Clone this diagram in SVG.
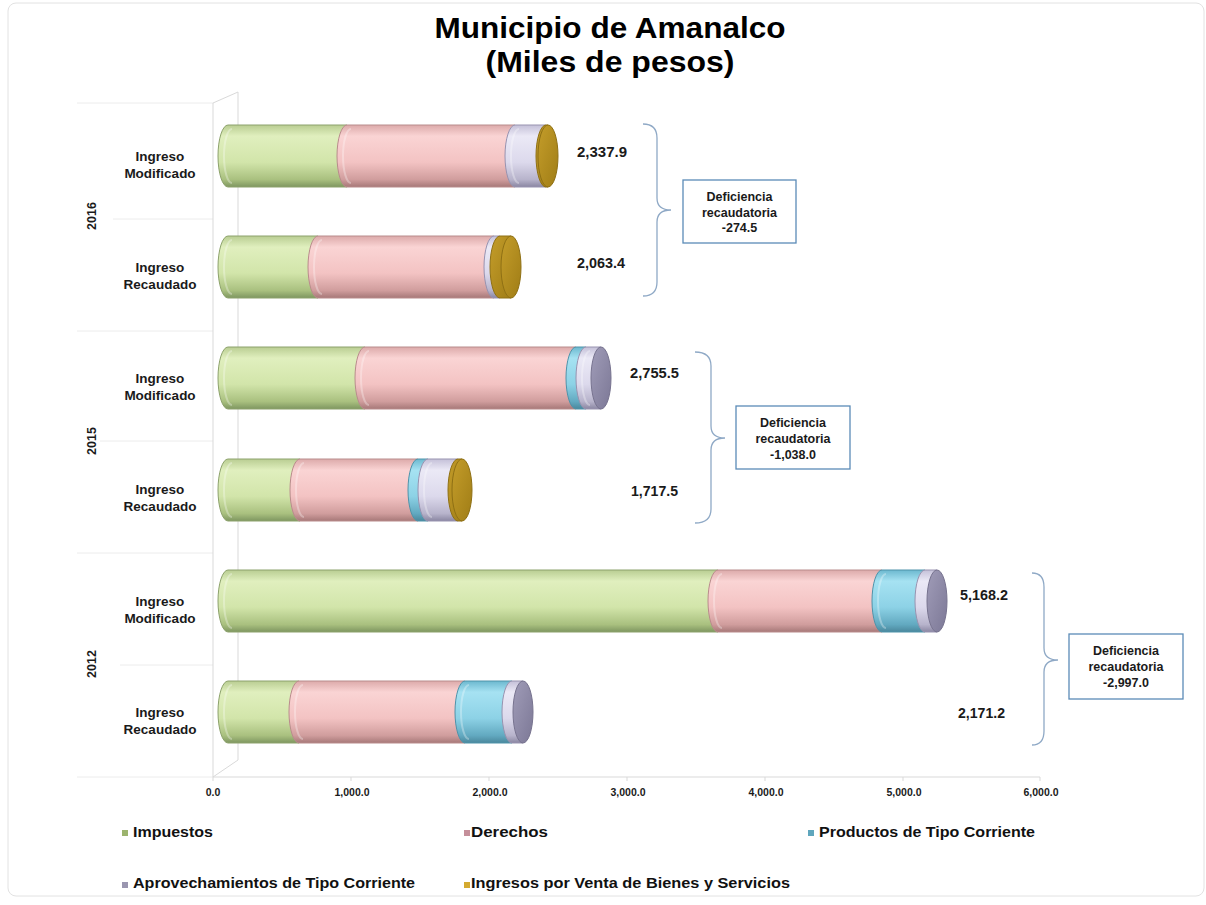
<svg xmlns="http://www.w3.org/2000/svg" width="1206" height="905" viewBox="0 0 1206 905">
<defs>
<linearGradient id="gG" x1="0" y1="0" x2="0" y2="1">
<stop offset="0" stop-color="#b9cd92"/><stop offset="0.18" stop-color="#e0efbe"/><stop offset="0.6" stop-color="#d2e5aa"/><stop offset="0.88" stop-color="#a9c07f"/><stop offset="1" stop-color="#7e9660"/>
</linearGradient>
<linearGradient id="gP" x1="0" y1="0" x2="0" y2="1">
<stop offset="0" stop-color="#dcaaaa"/><stop offset="0.18" stop-color="#fad4d4"/><stop offset="0.6" stop-color="#f3c3c3"/><stop offset="0.88" stop-color="#d09d9d"/><stop offset="1" stop-color="#a67878"/>
</linearGradient>
<linearGradient id="gL" x1="0" y1="0" x2="0" y2="1">
<stop offset="0" stop-color="#c4c0d8"/><stop offset="0.18" stop-color="#ebe9f6"/><stop offset="0.6" stop-color="#dcd9ec"/><stop offset="0.88" stop-color="#b7b3cb"/><stop offset="1" stop-color="#8a86a2"/>
</linearGradient>
<linearGradient id="gT" x1="0" y1="0" x2="0" y2="1">
<stop offset="0" stop-color="#6cb8cf"/><stop offset="0.18" stop-color="#a6e2f2"/><stop offset="0.6" stop-color="#8dd2e6"/><stop offset="0.88" stop-color="#62a9c0"/><stop offset="1" stop-color="#4a879c"/>
</linearGradient>
<linearGradient id="gY" x1="0" y1="0" x2="1" y2="1">
<stop offset="0" stop-color="#c49d2a"/><stop offset="1" stop-color="#a07d16"/>
</linearGradient>
<linearGradient id="gF" x1="0" y1="0" x2="1" y2="1">
<stop offset="0" stop-color="#a09cb8"/><stop offset="1" stop-color="#7c7896"/>
</linearGradient>
<style>
.g{fill:url(#gG);stroke:#8da26c;stroke-width:1}
.p{fill:url(#gP);stroke:#b98c8c;stroke-width:1}
.l{fill:url(#gL);stroke:#9893b0;stroke-width:1}
.t{fill:url(#gT);stroke:#4f93aa;stroke-width:1}
.y{fill:url(#gY);stroke:#8f7014;stroke-width:1}
.fy{fill:url(#gY);stroke:#8f7014;stroke-width:1}
.fl{fill:url(#gF);stroke:#77738f;stroke-width:1}
.hl{fill:none;stroke:#ffffff;stroke-opacity:0.3;stroke-width:2}
.frame{stroke:#d9d9d9;stroke-width:1;fill:none}
.sep{stroke:#ececec;stroke-width:1}
.cat{font-family:"Liberation Sans",Arial,sans-serif;font-weight:bold;font-size:13.5px;fill:#1a1a1a;text-anchor:middle}
.yr{font-family:"Liberation Sans",Arial,sans-serif;font-weight:bold;font-size:12.5px;fill:#1a1a1a;text-anchor:middle}
.ax{font-family:"Liberation Sans",Arial,sans-serif;font-weight:bold;font-size:10.5px;fill:#1a1a1a;text-anchor:middle}
.val{font-family:"Liberation Sans",Arial,sans-serif;font-weight:bold;font-size:14px;fill:#1a1a1a}
.box{fill:#ffffff;stroke:#5b8bb7;stroke-width:1.3}
.bt{font-family:"Liberation Sans",Arial,sans-serif;font-weight:bold;font-size:12.5px;fill:#1a1a1a;text-anchor:middle}
.brace{fill:none;stroke:#8fa9c6;stroke-width:1.3}
.leg{font-family:"Liberation Sans",Arial,sans-serif;font-weight:bold;font-size:15px;fill:#111}
.title{font-family:"Liberation Sans",Arial,sans-serif;font-weight:bold;font-size:30px;fill:#000;text-anchor:middle}
</style>
</defs>
<rect x="0" y="0" width="1206" height="905" fill="#ffffff"/>
<rect x="8" y="3" width="1196" height="893" rx="8" fill="none" stroke="#e2e2e2" stroke-width="1"/>

<g id="title">
<text class="title" x="610" y="38" textLength="351" lengthAdjust="spacingAndGlyphs">Municipio de Amanalco</text>
<text class="title" x="610" y="72" textLength="249" lengthAdjust="spacingAndGlyphs">(Miles de pesos)</text>
</g>

<g id="axes">
<line class="sep" x1="77" y1="103" x2="213" y2="103"/>
<line class="sep" x1="113" y1="219" x2="213" y2="219"/>
<line class="sep" x1="77" y1="331" x2="213" y2="331"/>
<line class="sep" x1="100" y1="441" x2="213" y2="441"/>
<line class="sep" x1="77" y1="553" x2="213" y2="553"/>
<line class="sep" x1="120" y1="665" x2="213" y2="665"/>
<line class="sep" x1="77" y1="777" x2="213" y2="777"/>
<polyline class="frame" points="213,777 213,103 238,92 238,760 213,777"/>
<line class="frame" x1="213" y1="777" x2="1040" y2="777"/>
<g stroke="#d9d9d9" stroke-width="1">
<line x1="213" y1="777" x2="213" y2="781"/><line x1="351" y1="777" x2="351" y2="781"/><line x1="489" y1="777" x2="489" y2="781"/><line x1="627" y1="777" x2="627" y2="781"/><line x1="765" y1="777" x2="765" y2="781"/><line x1="903" y1="777" x2="903" y2="781"/><line x1="1040" y1="777" x2="1040" y2="781"/>
</g>
<text class="ax" x="213" y="796">0.0</text>
<text class="ax" x="352" y="796">1,000.0</text>
<text class="ax" x="490" y="796">2,000.0</text>
<text class="ax" x="628" y="796">3,000.0</text>
<text class="ax" x="766" y="796">4,000.0</text>
<text class="ax" x="904" y="796">5,000.0</text>
<text class="ax" x="1041" y="796">6,000.0</text>
</g>

<g id="categories">
<text class="yr" transform="translate(96,216) rotate(-90)">2016</text>
<text class="yr" transform="translate(96,441) rotate(-90)">2015</text>
<text class="yr" transform="translate(96,664) rotate(-90)">2012</text>
<text class="cat" x="160" y="161">Ingreso</text><text class="cat" x="160" y="178">Modificado</text>
<text class="cat" x="160" y="272">Ingreso</text><text class="cat" x="160" y="289">Recaudado</text>
<text class="cat" x="160" y="383">Ingreso</text><text class="cat" x="160" y="400">Modificado</text>
<text class="cat" x="160" y="494">Ingreso</text><text class="cat" x="160" y="511">Recaudado</text>
<text class="cat" x="160" y="606">Ingreso</text><text class="cat" x="160" y="623">Modificado</text>
<text class="cat" x="160" y="717">Ingreso</text><text class="cat" x="160" y="734">Recaudado</text>
</g>

<g id="bar-2016-modificado">
<path class="g" d="M228,125 H347 V187 H228 A10,31 0 0 1 228,125 Z"/><path class="hl" d="M232,129 A8,27 0 0 0 232,183"/>
<path class="p" d="M347,125 H515 V187 H347 A10,31 0 0 1 347,125 Z"/><path class="hl" d="M351,129 A8,27 0 0 0 351,183"/>
<path class="l" d="M515,125 H546 V187 H515 A10,31 0 0 1 515,125 Z"/><path class="hl" d="M519,129 A8,27 0 0 0 519,183"/>
<path class="y" d="M546,125 H548 V187 H546 A10,31 0 0 1 546,125 Z"/>
<ellipse class="fy" cx="548" cy="156" rx="10" ry="31"/>
</g>
<g id="bar-2016-recaudado">
<path class="g" d="M228,236 H318 V298 H228 A10,31 0 0 1 228,236 Z"/><path class="hl" d="M232,240 A8,27 0 0 0 232,294"/>
<path class="p" d="M318,236 H494 V298 H318 A10,31 0 0 1 318,236 Z"/><path class="hl" d="M322,240 A8,27 0 0 0 322,294"/>
<path class="l" d="M494,236 H500 V298 H494 A10,31 0 0 1 494,236 Z"/>
<path class="y" d="M500,236 H511 V298 H500 A10,31 0 0 1 500,236 Z"/>
<ellipse class="fy" cx="511" cy="267" rx="10" ry="31"/>
</g>
<g id="bar-2015-modificado">
<path class="g" d="M228,347 H365 V409 H228 A10,31 0 0 1 228,347 Z"/><path class="hl" d="M232,351 A8,27 0 0 0 232,405"/>
<path class="p" d="M365,347 H576 V409 H365 A10,31 0 0 1 365,347 Z"/><path class="hl" d="M369,351 A8,27 0 0 0 369,405"/>
<path class="t" d="M576,347 H586 V409 H576 A10,31 0 0 1 576,347 Z"/>
<path class="l" d="M586,347 H601 V409 H586 A10,31 0 0 1 586,347 Z"/><path class="hl" d="M590,351 A8,27 0 0 0 590,405"/>
<ellipse class="fl" cx="601" cy="378" rx="10" ry="31"/>
</g>
<g id="bar-2015-recaudado">
<path class="g" d="M228,459 H300 V521 H228 A10,31 0 0 1 228,459 Z"/><path class="hl" d="M232,463 A8,27 0 0 0 232,517"/>
<path class="p" d="M300,459 H418 V521 H300 A10,31 0 0 1 300,459 Z"/><path class="hl" d="M304,463 A8,27 0 0 0 304,517"/>
<path class="t" d="M418,459 H428 V521 H418 A10,31 0 0 1 418,459 Z"/>
<path class="l" d="M428,459 H458 V521 H428 A10,31 0 0 1 428,459 Z"/><path class="hl" d="M432,463 A8,27 0 0 0 432,517"/>
<path class="y" d="M458,459 H462 V521 H458 A10,31 0 0 1 458,459 Z"/>
<ellipse class="fy" cx="462" cy="490" rx="10" ry="31"/>
</g>
<g id="bar-2012-modificado">
<path class="g" d="M228,570 H718 V632 H228 A10,31 0 0 1 228,570 Z"/><path class="hl" d="M232,574 A8,27 0 0 0 232,628"/>
<path class="p" d="M718,570 H882 V632 H718 A10,31 0 0 1 718,570 Z"/><path class="hl" d="M722,574 A8,27 0 0 0 722,628"/>
<path class="t" d="M882,570 H925 V632 H882 A10,31 0 0 1 882,570 Z"/><path class="hl" d="M886,574 A8,27 0 0 0 886,628"/>
<path class="l" d="M925,570 H937 V632 H925 A10,31 0 0 1 925,570 Z"/>
<ellipse class="fl" cx="937" cy="601" rx="10" ry="31"/>
</g>
<g id="bar-2012-recaudado">
<path class="g" d="M228,681 H299 V743 H228 A10,31 0 0 1 228,681 Z"/><path class="hl" d="M232,685 A8,27 0 0 0 232,739"/>
<path class="p" d="M299,681 H465 V743 H299 A10,31 0 0 1 299,681 Z"/><path class="hl" d="M303,685 A8,27 0 0 0 303,739"/>
<path class="t" d="M465,681 H512 V743 H465 A10,31 0 0 1 465,681 Z"/><path class="hl" d="M469,685 A8,27 0 0 0 469,739"/>
<path class="l" d="M512,681 H523 V743 H512 A10,31 0 0 1 512,681 Z"/>
<ellipse class="fl" cx="523" cy="712" rx="10" ry="31"/>
</g>

<g id="values">
<text class="val" x="577" y="157" textLength="50" lengthAdjust="spacingAndGlyphs">2,337.9</text>
<text class="val" x="577" y="268" textLength="48" lengthAdjust="spacingAndGlyphs">2,063.4</text>
<text class="val" x="630" y="378" textLength="49" lengthAdjust="spacingAndGlyphs">2,755.5</text>
<text class="val" x="631" y="496" textLength="47" lengthAdjust="spacingAndGlyphs">1,717.5</text>
<text class="val" x="960" y="600" textLength="48" lengthAdjust="spacingAndGlyphs">5,168.2</text>
<text class="val" x="958" y="718" textLength="47" lengthAdjust="spacingAndGlyphs">2,171.2</text>
</g>

<g id="connectors">
<path class="brace" d="M643,124 Q657,124 657,138 L657,198 Q657,210 671,210 Q657,210 657,222 L657,282 Q657,296 643,296"/>
<path class="brace" d="M695,352 Q711,352 711,366 L711,426 Q711,438 725,438 Q711,438 711,450 L711,509 Q711,523 695,523"/>
<path class="brace" d="M1032,573 Q1044,573 1044,587 L1044,648 Q1044,660 1058,660 Q1044,660 1044,672 L1044,731 Q1044,745 1032,745"/>
</g>

<g id="callout-2016">
<rect class="box" x="683" y="180" width="113" height="63"/>
<text class="bt" x="739.5" y="201">Deficiencia</text>
<text class="bt" x="739.5" y="216.5">recaudatoria</text>
<text class="bt" x="739.5" y="232">-274.5</text>
</g>
<g id="callout-2015">
<rect class="box" x="736" y="406" width="114" height="63"/>
<text class="bt" x="793" y="427">Deficiencia</text>
<text class="bt" x="793" y="442.5">recaudatoria</text>
<text class="bt" x="793" y="459">-1,038.0</text>
</g>
<g id="callout-2012">
<rect class="box" x="1069" y="634" width="114" height="65"/>
<text class="bt" x="1126" y="655">Deficiencia</text>
<text class="bt" x="1126" y="670.5">recaudatoria</text>
<text class="bt" x="1126" y="687">-2,997.0</text>
</g>

<g id="legend">
<rect x="122" y="830" width="6" height="6" fill="#9cb46e"/>
<text class="leg" x="133" y="837" textLength="80" lengthAdjust="spacingAndGlyphs">Impuestos</text>
<rect x="464" y="830" width="6" height="6" fill="#c58f9a"/>
<text class="leg" x="471" y="837" textLength="77" lengthAdjust="spacingAndGlyphs">Derechos</text>
<rect x="808" y="830" width="6" height="6" fill="#5fa6bd"/>
<text class="leg" x="819" y="837" textLength="216" lengthAdjust="spacingAndGlyphs">Productos de Tipo Corriente</text>
<rect x="122" y="882" width="6" height="6" fill="#9a96b0"/>
<text class="leg" x="133" y="888" textLength="282" lengthAdjust="spacingAndGlyphs">Aprovechamientos de Tipo Corriente</text>
<rect x="464" y="882" width="6" height="6" fill="#d4aa30"/>
<text class="leg" x="471" y="888" textLength="319" lengthAdjust="spacingAndGlyphs">Ingresos por Venta de Bienes y Servicios</text>
</g>
</svg>
